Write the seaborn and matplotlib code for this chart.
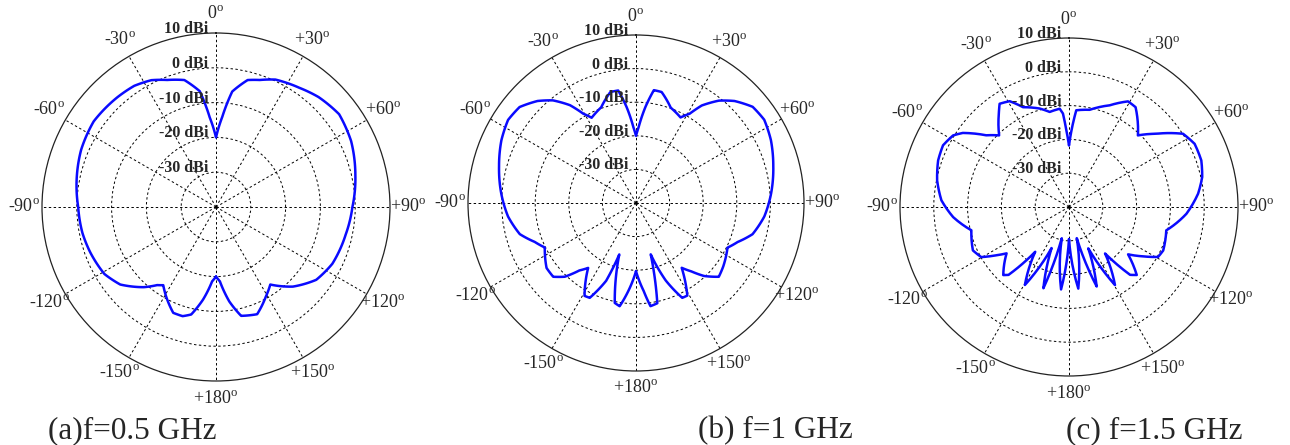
#!/usr/bin/env python
# coding: utf-8

import numpy as np
import pandas as pd
import matplotlib
matplotlib.use("Agg")
from matplotlib import pyplot as plt
import seaborn as sns

sns.set_style("white")
plt.rcParams['font.family'] = ['Liberation Serif', 'DejaVu Serif']
plt.rcParams['mathtext.fontset'] = 'custom'
plt.rcParams['mathtext.rm'] = 'Liberation Serif'

# radiation patterns: angle in degrees (clockwise from 0 at top), gain in dBi
angles_a = [-180, -177, -172, -167, -163, -158, -151, -146, -143, -138, -129, -121, -110, -101,
            -90, -79, -67, -55, -42, -34, -27, -21, -14, -8, -4, 0,
            4, 8, 14, 19, 25, 35, 43, 53, 64, 77, 90, 102, 116, 126, 136, 145, 151,
            159, 167, 172, 177, 180]
gain_a = [-20.0, -18.6, -13.1, -8.3, -7.2, -7.2, -10.5, -12.9, -11.9, -9.0, -4.6, -2.6, -1.6, -0.9,
          -0.4, 0.8, 2.1, 2.9, 2.4, 2.0, 0.9, -0.9, -2.4, -6.4, -14.2, -20.0,
          -14.0, -6.5, -2.4, -1.4, 0.4, 1.8, 3.2, 4.3, 3.2, 1.1, -0.8, -1.9, -2.8, -4.4, -8.2, -12.8, -10.5,
          -7.0, -7.9, -12.6, -18.6, -20.0]

angles_b = [-180, -175, -171, -168, -162, -159, -154, -151, -143.6, -140, -136, -131.7, -126, -116,
            -111, -105, -96, -86, -75, -65, -57, -50.5, -44, -39, -34, -30.6, -27.5, -20, -13, -9,
            -5.6, -2, 0,
            2, 5.6, 9, 13, 20, 27.5, 31, 34, 39, 44, 50.5, 57, 65, 75, 86, 96, 105, 111, 116,
            126, 131.7, 137, 141, 144.8, 151, 154, 159, 164, 168, 172, 175, 180]
gain_b = [-19.7, -13.7, -8.9, -9.6, -23.9, -15.2, -8.6, -8.4, -16.0, -13.8, -9.5, -7.0, -7.1, -9.8,
          -7.7, -4.2, -1.7, 0.2, 2.2, 4.2, 5.4, 4.9, 2.2, -0.7, -4.9, -9.1, -11.4, -9.7, -6.1, -6.1,
          -11.3, -17.4, -20.0,
          -17.4, -11.3, -6.0, -6.1, -9.8, -11.3, -9.0, -5.0, -0.8, 2.2, 5.0, 5.5, 4.3, 2.3, 0.3, -1.6, -4.1, -7.6, -9.7,
          -7.9, -7.0, -10.3, -13.8, -16.4, -8.5, -8.6, -15.3, -24.1, -9.5, -9.0, -13.7, -19.7]

angles_c = [-180, -174.5, -167, -162.5, -157, -150.5, -143, -138.3, -136, -126.6, -123.6, -119.7,
            -114.3, -103.4, -95, -87, -78.6, -70.4, -63.9, -58.3, -55.1, -49.1, -44.3, -37, -33.9,
            -29.3, -24.7, -16.6, -11.5, -5.4, -3.7, -2, 0,
            2, 4.3, 12, 21.8, 29.2, 33.7, 43.9, 50, 57.3, 63.3, 70.6, 77.3, 84.1, 93.3, 103.5,
            114.8, 119.3, 123.7, 128.7, 135.1, 138, 142.2, 149.5, 155, 160.8, 166, 173.5, 180]
gain_c = [-30.5, -15.5, -30.5, -14.8, -26.8, -13.5, -23.4, -13.1, -12.0, -17.0, -14.2, -10.1,
          -8.8, -10.3, -5.6, -2.2, -0.2, 1.1, 1.5, 0.3, -1.7, -7.6, -10.4, -5.5, -3.2,
          -4.1, -7.5, -9.6, -11.3, -10.8, -12.3, -17.3, -21.8,
          -17.0, -11.3, -10.6, -7.6, -4.2, -4.5, -10.6, -6.3, 0.1, 1.6, 1.5, 0.4, -1.6, -5.2, -10.4,
          -9.3, -9.8, -13.7, -17.6, -11.6, -13.0, -22.6, -13.2, -26.5, -15.1, -30.5, -15.7, -30.5]

captions = ["(a)f=0.5 GHz", "(b) f=1 GHz", "(c) f=1.5 GHz"]
ring_levels = [10, 0, -10, -20, -30]
angle_ticks = [0, 30, 60, 90, 120, 150, 180, -150, -120, -90, -60, -30]


def angle_label(a):
    if a == 0:
        return r"0$^{\rm o}$"
    return f"{a:+d}" + r"$^{\rm o}$"


def draw_pattern(ax, angles, gain):
    ax.set_theta_zero_location("N")
    ax.set_theta_direction(-1)
    frame = pd.DataFrame({"theta": np.deg2rad(angles), "gain": gain})
    sns.lineplot(data=frame, x="theta", y="gain", sort=False, estimator=None,
                 color="#0a0aff", lw=1.8, ax=ax, legend=False)
    # let the polar transform bend each segment along theta
    for line in ax.lines:
        line.get_path()._interpolation_steps = 12
    ax.set_xlabel("")
    ax.set_ylabel("")
    ax.set_rlim(-40, 10)
    ax.set_rgrids([-30, -20, -10, 0], labels=[])
    ax.set_thetagrids(range(0, 360, 30), labels=[])
    ax.grid(True, color="black", linestyle=(0, (2.5, 2.5)), lw=0.7)
    ax.spines["polar"].set(color="#222222", lw=0.9)
    for level in ring_levels:
        ax.annotate(f"{level} dBi", xy=(0, level), xytext=(-5.5, 0), textcoords="offset points",
                    ha="right", va="baseline", fontsize=11.5, fontweight="bold")
    for a in angle_ticks:
        ax.text(np.deg2rad(a), 15.3, angle_label(a), ha="center", va="center", fontsize=13)


fig = plt.figure(figsize=(12.9, 4.45), dpi=100)
W, H = 1290, 445
# (left px, top px, size px) of each polar disc
boxes = [(42, 33, 348), (468, 35, 336), (900, 38, 338)]
patterns = [(angles_a, gain_a), (angles_b, gain_b), (angles_c, gain_c)]
caption_x = [48, 698, 1066]

for (left, top, size), (angles, gain) in zip(boxes, patterns):
    ax = fig.add_axes([left / W, (H - top - size) / H, size / W, size / H], projection="polar")
    draw_pattern(ax, angles, gain)

for x, text in zip(caption_x, captions):
    fig.text(x / W, (H - 438) / H, text, ha="left", va="baseline", fontsize=22.5)

fig.savefig("out.png", dpi=100)
